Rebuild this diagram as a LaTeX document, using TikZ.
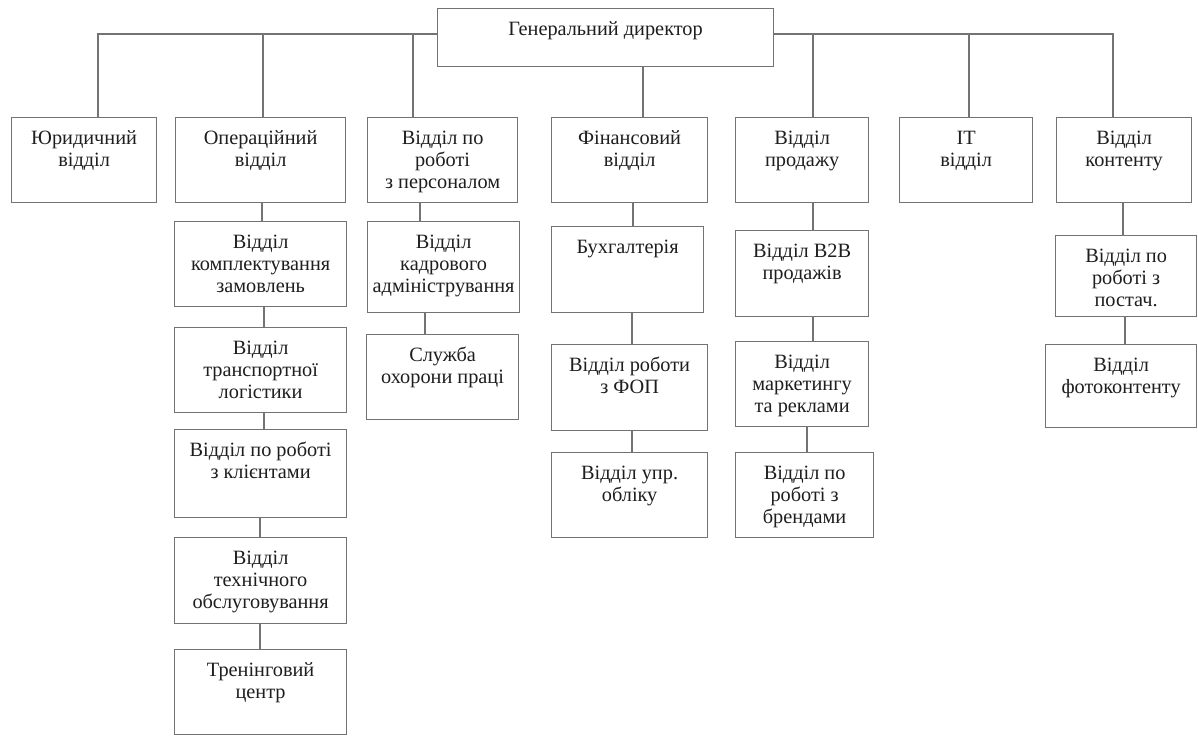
\documentclass[tikz,border=0pt]{standalone}
\usepackage{fontspec}
\setmainfont{Liberation Serif}
\definecolor{ln}{RGB}{115,115,115}
\definecolor{tx}{RGB}{30,30,30}
\tikzset{
  box/.style={draw=ln, line width=1.2pt, inner sep=0pt, anchor=north west, text=tx,
    font=\fontsize{20.3}{22}\selectfont},
  conn/.style={draw=ln, line width=1.2pt},
}
\newcommand\bx[3]{\parbox[b][#2pt][t]{#1pt}{\centering\rule{0pt}{27pt}#3\par}}
\newcommand\vlink[3]{\coordinate (tmpx) at (#3,0); \draw[conn] (#1.south -| tmpx) -- (#2.north -| tmpx);}
\begin{document}
\begin{tikzpicture}[x=1pt,y=-1pt]
\useasboundingbox (0,0) rectangle (1198,736);
\fill[white] (0,0) rectangle (1198,736);
% top
\node[box] (gd) at (437,8) {\bx{336}{58}{Генеральний директор}};
% level 1
\node[box] (jur) at (11,117) {\bx{145}{85}{Юридичний\\відділ}};
\node[box] (oper) at (175,117) {\bx{170}{85}{Операційний\\відділ}};
\node[box] (pers) at (367,117) {\bx{150}{85}{Відділ по\\роботі\\з персоналом}};
\node[box] (fin) at (551,117) {\bx{156}{85}{Фінансовий\\відділ}};
\node[box] (sales) at (735,117) {\bx{133}{85}{Відділ\\продажу}};
\node[box] (it) at (899,117) {\bx{133}{85}{IT\\відділ}};
\node[box] (cont) at (1056,117) {\bx{135}{85}{Відділ\\контенту}};
% operational column
\node[box] (op1) at (174,221) {\bx{172}{85}{Відділ\\комплектування\\замовлень}};
\node[box] (op2) at (174,327) {\bx{172}{85}{Відділ\\транспортної\\логістики}};
\node[box] (op3) at (174,429) {\bx{172}{88}{Відділ по роботі\\з клієнтами}};
\node[box] (op4) at (174,537) {\bx{172}{86}{Відділ\\технічного\\обслуговування}};
\node[box] (op5) at (174,649) {\bx{172}{85}{Тренінговий\\центр}};
% personnel column
\node[box] (p1) at (367,221) {\bx{152}{91}{Відділ\\кадрового\\адміністрування}};
\node[box] (p2) at (366,334) {\bx{152}{85}{Служба\\охорони праці}};
% finance column
\node[box] (f1) at (551,226) {\bx{152}{86}{Бухгалтерія}};
\node[box] (f2) at (551,344) {\bx{156}{86}{Відділ роботи\\з ФОП}};
\node[box] (f3) at (551,452) {\bx{156}{85}{Відділ упр.\\обліку}};
% sales column
\node[box] (s1) at (735,230) {\bx{133}{86}{Відділ B2B\\продажів}};
\node[box] (s2) at (735,341) {\bx{133}{85}{Відділ\\маркетингу\\та реклами}};
\node[box] (s3) at (735,452) {\bx{138}{85}{Відділ по\\роботі з\\брендами}};
% content column
\node[box] (c1) at (1055,235) {\bx{141}{81}{Відділ по\\роботі з\\постач.}};
\node[box] (c2) at (1045,344) {\bx{151}{83}{Відділ\\фотоконтенту}};
% top connectors
\coordinate (hy) at (0,34);
\coordinate (xj) at (98,0);
\coordinate (xo) at (263,0);
\coordinate (xp) at (413,0);
\coordinate (xf) at (643,0);
\coordinate (xs) at (813,0);
\coordinate (xi) at (969,0);
\coordinate (xc) at (1113,0);
\draw[conn] (gd.west |- hy) -| (jur.north -| xj);
\draw[conn] (hy -| xo) -- (oper.north -| xo);
\draw[conn, line width=2pt] (hy -| xp) -- (pers.north -| xp);
\draw[conn] (gd.south -| xf) -- (fin.north -| xf);
\draw[conn] (gd.east |- hy) -| (cont.north -| xc);
\draw[conn] (hy -| xs) -- (sales.north -| xs);
\draw[conn] (hy -| xi) -- (it.north -| xi);
% column connectors
\vlink{oper}{op1}{262}
\vlink{op1}{op2}{264}
\vlink{op2}{op3}{264}
\vlink{op3}{op4}{260}
\vlink{op4}{op5}{260}
\vlink{pers}{p1}{420}
\vlink{p1}{p2}{425}
\vlink{fin}{f1}{633}
\vlink{f1}{f2}{632}
\vlink{f2}{f3}{632}
\vlink{sales}{s1}{813}
\vlink{s1}{s2}{813}
\vlink{s2}{s3}{807}
\vlink{cont}{c1}{1123}
\vlink{c1}{c2}{1125}
\end{tikzpicture}
\end{document}
